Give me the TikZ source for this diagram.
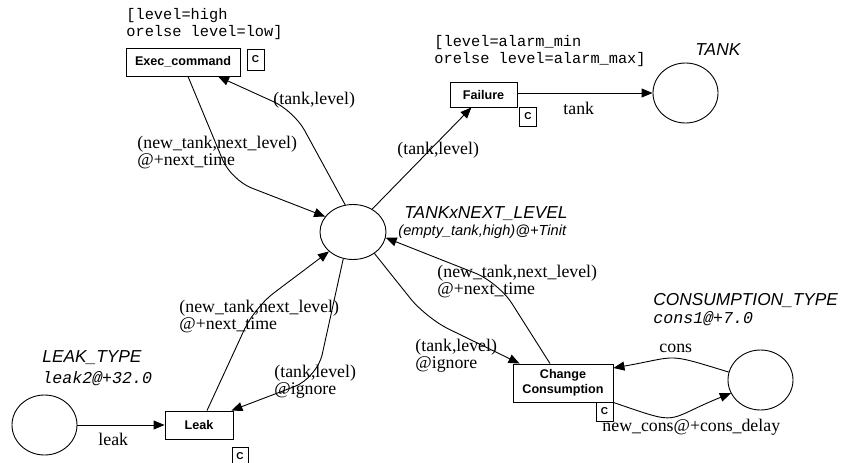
\documentclass[tikz,border=0pt]{standalone}
\usepackage{fontspec}
\setmainfont{Liberation Serif}
\newfontfamily\hsans{Liberation Sans}
\newfontfamily\hmono{Liberation Mono}
\usetikzlibrary{arrows.meta,shapes.geometric,calc}
\begin{document}
\begin{tikzpicture}[x=1pt,y=-1pt,
  line width=0.9pt,
  arr/.style={-{Triangle[length=11pt,width=9pt]}},
  place/.style={draw,ellipse,minimum width=65pt,minimum height=60pt,inner sep=0pt},
  trans/.style={draw,rectangle,inner sep=0pt,font=\hsans\bfseries\fontsize{12.6}{15}\selectfont,align=center},
  cbox/.style={draw,rectangle,inner sep=0pt,minimum width=17pt,minimum height=19pt,line width=0.7pt,font=\hsans\bfseries\fontsize{10}{10}\selectfont},
  lbl/.style={inner sep=0pt,anchor=base west,align=left,font=\fontsize{17.8}{17}\selectfont},
  guard/.style={inner sep=0pt,anchor=base west,align=left,font=\hmono\fontsize{15.3}{17}\selectfont},
  pname/.style={inner sep=0pt,anchor=base west,font=\hsans\itshape\fontsize{17.3}{17}\selectfont},
  pinit/.style={inner sep=0pt,anchor=base west,font=\hsans\itshape\fontsize{14.6}{17}\selectfont},
  minit/.style={inner sep=0pt,anchor=base west,font=\hmono\itshape\fontsize{16.6}{17}\selectfont}]
\useasboundingbox (0,0) rectangle (849,463);

% places
\node[place,minimum width=66pt,minimum height=55pt] (ctr) at (353,232) {};
\node[place] (tank) at (685.5,93) {};
\node[place] (leakp) at (44.5,425) {};
\node[place] (consp) at (760.5,380) {};

% transitions
\node[trans,minimum width=114pt,minimum height=28pt] (exec) at (183,62) {Exec\_command};
\node[trans,minimum width=67pt,minimum height=25pt] (fail) at (483.5,94.5) {Failure};
\node[trans,minimum width=68pt,minimum height=28pt] (leak) at (199,425) {Leak};
\node[trans,minimum width=100pt,minimum height=38pt,font=\hsans\bfseries\fontsize{12.6}{15}\selectfont] (chg) at (563,383) {Change\\Consumption};

% code boxes
\node[cbox,minimum height=21pt] (c1) at (255.5,59.5) {C};
\node[cbox] (c2) at (528,116.5) {C};
\node[cbox,minimum width=16pt] (c3) at (240,456.5) {C};
\node[cbox] (c4) at (604.5,411.5) {C};

% guards (base anchor = baseline of last line)
\node[guard] (g1) at (126,36) {[level=high\\orelse level=low]};
\node[guard] (g2) at (434,63) {[level=alarm\_min\\orelse level=alarm\_max]};

% place names and initial markings
\node[pname] (ntank) at (695,55) {TANK};
\node[pname] (nctr) at (404,218) {TANKxNEXT\_LEVEL};
\node[pinit] (ictr) at (398,235) {(empty\_tank,high)@+Tinit};
\node[pname] (nleak) at (42,362) {LEAK\_TYPE};
\node[minit] (ileak) at (42,383) {leak2@+32.0};
\node[pname] (ncons) at (653,305) {CONSUMPTION\_TYPE};
\node[minit] (icons) at (653,323) {cons1@+7.0};

% arcs
\draw[arr] (fail.east |- tank.west) -- (tank.west);
\draw[arr] (ctr.50) -- (fail.-133);
\draw[arr,rounded corners=22pt] (ctr.106) -- (294,111) -- ([xshift=35pt]exec.south);
\draw[arr,rounded corners=22pt] ([xshift=5pt]exec.south) -- (231,180) -- (ctr.151);
\draw[arr,rounded corners=24pt] ([xshift=8pt]leak.north) -- (254.5,307.5) -- (ctr.219);
\draw[arr,rounded corners=24pt] (ctr.-110) -- (317,378) -- ([xshift=-2pt]leak.north east);
\draw[arr,rounded corners=25pt] (ctr.-45) -- (426,318) -- ([xshift=7pt]chg.north west);
\draw[arr,rounded corners=25pt] ([xshift=-13pt]chg.north) -- (498.5,282.3) -- (ctr.-10);
\draw[arr] (leakp) -- (leak);
\draw[arr] (consp.166) to[out=163,in=10,looseness=1.5] ([yshift=15pt]chg.east);
\draw[arr] (chg.south east) to[out=-19,in=202,looseness=1.6] (consp.204);

% arc inscriptions (multi-line: base = last line)
\node[lbl] (a1) at (563,114) {tank};
\node[lbl] (a2) at (397,154) {(tank,level)};
\node[lbl] (a3) at (273,104) {(tank,level)};
\node[lbl] (a4) at (137,165) {(new\_tank,next\_level)\\@+next\_time};
\node[lbl] (a5) at (179,329) {(new\_tank,next\_level)\\@+next\_time};
\node[lbl,font=\fontsize{17.8}{15}\selectfont] (a6) at (274,394) {(tank,level)\\@ignore};
\node[lbl] (a7) at (415,368) {(tank,level)\\@ignore};
\node[lbl] (a8) at (437,294) {(new\_tank,next\_level)\\@+next\_time};
\node[lbl] (a9) at (98,445) {leak};
\node[lbl] (a10) at (659,352) {cons};
\node[lbl] (a11) at (602,431) {new\_cons@+cons\_delay};
\end{tikzpicture}
\end{document}
